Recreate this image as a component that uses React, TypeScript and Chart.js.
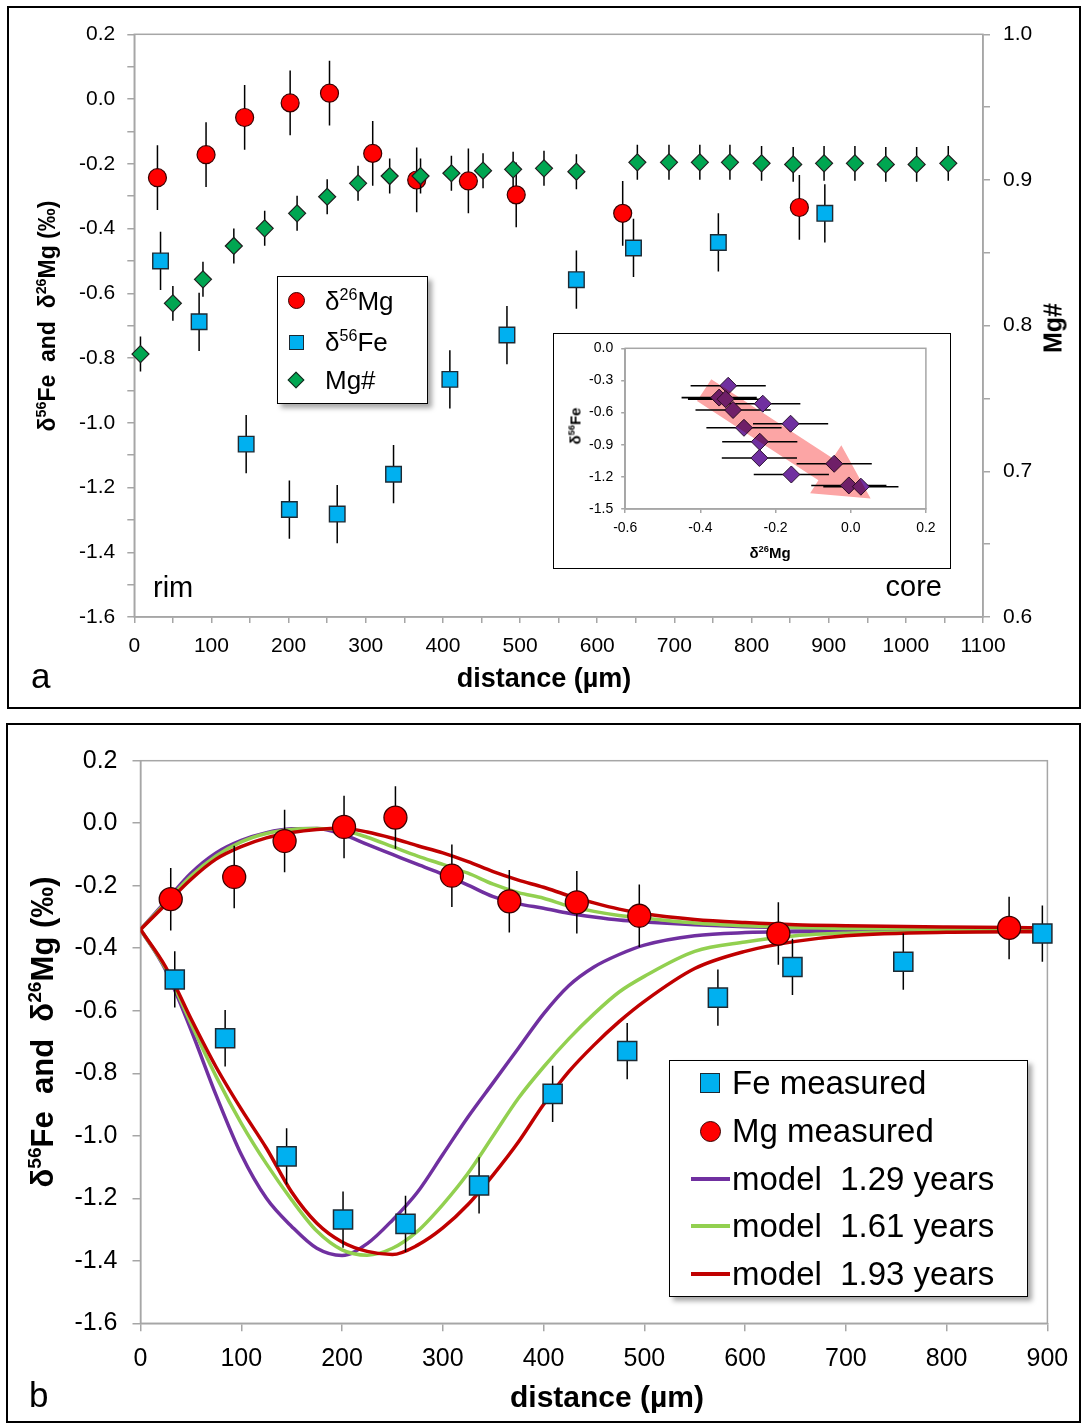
import React, { useEffect, useRef } from "react";
import { Chart, registerables } from "chart.js";

Chart.register(...registerables);

const FONT = '"Liberation Sans", Arial, Helvetica, sans-serif';
const GRAY = "#a6a6a6";
const RED = "#ff0000";
const BLUE = "#00b0f0";
const GREEN = "#00a651";
const PURPLE = "#7030a0";
const M_PURPLE = "#7030a0";
const M_GREEN = "#92d050";
const M_RED = "#c00000";

// ---------------- measured data (distance in µm) ----------------
const mgDist = [30, 93, 143, 202, 253, 309, 366, 433, 495, 633, 862];
const mgDelta = [-0.243, -0.172, -0.057, -0.012, 0.018, -0.168, -0.25, -0.253, -0.296, -0.353, -0.335];
const mgErr = 0.1;

const feDist = [34, 84, 145, 201, 263, 336, 409, 483, 573, 647, 757, 895];
const feDelta = [-0.5, -0.688, -1.066, -1.268, -1.282, -1.159, -0.866, -0.729, -0.558, -0.46, -0.443, -0.353];
const feErr = 0.09;

const mgNumDist = [8, 50, 89, 129, 169, 211, 250, 290, 331, 371, 411, 452, 491, 531, 573, 652, 693, 733, 772, 813, 854, 894, 934, 974, 1014, 1055];
const mgNum = [0.7805, 0.8153, 0.8318, 0.8547, 0.8668, 0.8771, 0.8885, 0.8977, 0.9027, 0.9027, 0.9046, 0.9064, 0.9073, 0.908, 0.9057, 0.9121, 0.9121, 0.9121, 0.9121, 0.9114, 0.9107, 0.9114, 0.9114, 0.9107, 0.9107, 0.9114];
const mgNumErr = 0.012;

// ---------------- inset (δ26Mg vs δ56Fe) ----------------
const insetMg = [-0.326, -0.35, -0.333, -0.234, -0.313, -0.16, -0.284, -0.242, -0.243, -0.158, -0.044, -0.005, 0.027];
const insetFe = [-0.35, -0.46, -0.475, -0.517, -0.576, -0.704, -0.742, -0.872, -1.024, -1.178, -1.078, -1.28, -1.292];
const insetErr = 0.1;
const arrowMg = [-0.409, -0.371, -0.048, -0.025, 0.053, -0.108, -0.086];
const arrowFe = [-0.491, -0.288, -1.027, -0.904, -1.401, -1.354, -1.231];

// ---------------- diffusion models ----------------
const modelDist = [0, 25, 50, 75, 100, 125, 150, 175, 200, 225, 250, 275, 300, 325, 350, 375, 400, 425, 450, 475, 500, 550, 600, 650, 700, 800, 900];
const mg129 = [-0.34, -0.25, -0.16, -0.095, -0.055, -0.03, -0.018, -0.017, -0.035, -0.068, -0.1, -0.132, -0.163, -0.198, -0.235, -0.258, -0.272, -0.288, -0.3, -0.31, -0.316, -0.325, -0.331, -0.335, -0.337, -0.338, -0.338];
const mg161 = [-0.34, -0.255, -0.17, -0.105, -0.06, -0.033, -0.02, -0.017, -0.022, -0.045, -0.075, -0.105, -0.132, -0.16, -0.195, -0.222, -0.24, -0.265, -0.282, -0.295, -0.304, -0.319, -0.328, -0.334, -0.337, -0.338, -0.338];
const mg193 = [-0.34, -0.26, -0.18, -0.115, -0.075, -0.047, -0.03, -0.02, -0.016, -0.028, -0.048, -0.072, -0.095, -0.123, -0.155, -0.182, -0.205, -0.232, -0.255, -0.275, -0.29, -0.308, -0.318, -0.325, -0.328, -0.332, -0.335];
const fe129 = [-0.34, -0.47, -0.66, -0.87, -1.06, -1.2, -1.29, -1.36, -1.383, -1.345, -1.27, -1.18, -1.06, -0.94, -0.83, -0.72, -0.61, -0.52, -0.46, -0.42, -0.39, -0.36, -0.35, -0.347, -0.346, -0.345, -0.345];
const fe161 = [-0.34, -0.465, -0.64, -0.81, -0.96, -1.09, -1.205, -1.305, -1.365, -1.382, -1.36, -1.305, -1.22, -1.12, -1.0, -0.88, -0.78, -0.69, -0.61, -0.54, -0.49, -0.41, -0.38, -0.36, -0.352, -0.347, -0.345];
const fe193 = [-0.34, -0.46, -0.625, -0.78, -0.915, -1.04, -1.18, -1.28, -1.34, -1.37, -1.38, -1.35, -1.295, -1.22, -1.125, -1.02, -0.9, -0.795, -0.71, -0.635, -0.57, -0.465, -0.41, -0.378, -0.36, -0.349, -0.347];

const zip = (xs: number[], ys: number[]) => xs.map((x, i) => ({ x, y: ys[i] }));

// ---------------- plugins ----------------
const errorBarPlugin = {
  id: "errorBars",
  beforeDatasetDraw(chart: any, args: any) {
    const ds: any = chart.data.datasets[args.index];
    if (!ds.errY && !ds.errX) return;
    const meta = chart.getDatasetMeta(args.index);
    const xs = chart.scales[meta.xAxisID];
    const ys = chart.scales[meta.yAxisID];
    const ctx = chart.ctx;
    ctx.save();
    ctx.strokeStyle = "#000";
    ctx.lineWidth = ds.errWidth || 1.5;
    ctx.beginPath();
    ds.data.forEach((p: any) => {
      if (ds.errY) {
        const x = xs.getPixelForValue(p.x);
        ctx.moveTo(x, ys.getPixelForValue(p.y - ds.errY));
        ctx.lineTo(x, ys.getPixelForValue(p.y + ds.errY));
      }
      if (ds.errX) {
        const y = ys.getPixelForValue(p.y);
        ctx.moveTo(xs.getPixelForValue(p.x - ds.errX), y);
        ctx.lineTo(xs.getPixelForValue(p.x + ds.errX), y);
      }
    });
    ctx.stroke();
    ctx.restore();
  },
};

const framePlugin = {
  id: "frame",
  beforeDatasetsDraw(chart: any) {
    const { ctx, chartArea: a } = chart;
    ctx.save();
    ctx.strokeStyle = GRAY;
    ctx.lineWidth = 1.5;
    ctx.strokeRect(a.left, a.top, a.right - a.left, a.bottom - a.top);
    ctx.restore();
  },
};

const arrowPlugin = {
  id: "arrow",
  afterDatasetsDraw(chart: any) {
    const { ctx } = chart;
    const xs = chart.scales.x;
    const ys = chart.scales.y;
    ctx.save();
    ctx.globalCompositeOperation = "multiply";
    ctx.fillStyle = "rgb(252,165,165)";
    ctx.beginPath();
    arrowMg.forEach((m, i) => {
      const px = xs.getPixelForValue(m);
      const py = ys.getPixelForValue(arrowFe[i]);
      if (i === 0) ctx.moveTo(px, py);
      else ctx.lineTo(px, py);
    });
    ctx.closePath();
    ctx.fill();
    ctx.restore();
  },
};

// ---------------- axis helper ----------------
function makeAxis(s: any) {
  const horizontal = s.pos === "bottom";
  return {
    type: "linear",
    position: s.pos,
    min: s.min,
    max: s.max,
    ticks: {
      stepSize: s.step,
      autoSkip: false,
      maxRotation: 0,
      minRotation: 0,
      maxTicksLimit: 1000,
      padding: s.pad,
      color: "#000",
      font: { family: FONT, size: s.fontSize },
      callback: (v: number) => {
        const k = Math.round(v / s.step);
        const val = Math.abs(v) < 1e-9 ? 0 : v;
        return k % s.labelEvery === 0 ? Number(val).toFixed(s.decimals) : "";
      },
    },
    grid: {
      drawOnChartArea: false,
      drawTicks: true,
      tickLength: s.tickLen,
      tickColor: GRAY,
      tickWidth: 1.5,
      color: GRAY,
      lineWidth: 1.5,
    },
    border: { display: true, color: GRAY, width: 1.5 },
    afterFit: (sc: any) => {
      if (horizontal) sc.height = s.size;
      else sc.width = s.size;
      sc.paddingLeft = 0;
      sc.paddingRight = 0;
      sc.paddingTop = 0;
      sc.paddingBottom = 0;
    },
  };
}

const baseOptions = (padding: any, scales: any) => ({
  responsive: false,
  animation: false,
  events: [],
  layout: { padding },
  plugins: { legend: { display: false }, tooltip: { enabled: false } },
  scales,
});

// ---------------- chart configs ----------------
const configA = () => ({
  type: "scatter",
  data: {
    datasets: [
      {
        label: "Mg#",
        data: zip(mgNumDist, mgNum),
        xAxisID: "x",
        yAxisID: "y2",
        pointStyle: "rectRot",
        pointRadius: 8.5,
        pointBackgroundColor: GREEN,
        pointBorderColor: "#1e1e1e",
        pointBorderWidth: 1.2,
        errY: mgNumErr,
        order: 1,
        clip: false,
      },
      {
        label: "δ26Mg",
        data: zip(mgDist, mgDelta),
        xAxisID: "x",
        yAxisID: "y",
        pointStyle: "circle",
        pointRadius: 9,
        pointBackgroundColor: RED,
        pointBorderColor: "#3a0000",
        pointBorderWidth: 1.2,
        errY: mgErr,
        order: 2,
        clip: false,
      },
      {
        label: "δ56Fe",
        data: zip(feDist, feDelta),
        xAxisID: "x",
        yAxisID: "y",
        pointStyle: "rect",
        pointRadius: 11,
        pointBackgroundColor: BLUE,
        pointBorderColor: "#1e2a33",
        pointBorderWidth: 1.4,
        errY: feErr,
        order: 3,
        clip: false,
      },
    ],
  },
  options: baseOptions({ left: 0, top: 26.3, right: 0, bottom: 0 }, {
    x: makeAxis({ pos: "bottom", min: 0, max: 1100, step: 50, labelEvery: 2, decimals: 0, size: 90, fontSize: 21, tickLen: 6, pad: 11 }),
    y: makeAxis({ pos: "left", min: -1.6, max: 0.2, step: 0.1, labelEvery: 2, decimals: 1, size: 125.3, fontSize: 21, tickLen: 7, pad: 12 }),
    y2: makeAxis({ pos: "right", min: 0.6, max: 1.0, step: 0.05, labelEvery: 2, decimals: 1, size: 96, fontSize: 21, tickLen: 7, pad: 13 }),
  }),
  plugins: [framePlugin, errorBarPlugin],
});

const modelLine = (label: string, ys: number[], color: string, order: number) => ({
  label,
  data: zip(modelDist, ys),
  showLine: true,
  pointRadius: 0,
  borderColor: color,
  borderWidth: 3.5,
  cubicInterpolationMode: "monotone",
  fill: false,
  order,
});

const configB = () => ({
  type: "scatter",
  data: {
    datasets: [
      {
        label: "Mg measured",
        data: zip(mgDist, mgDelta),
        pointStyle: "circle",
        pointRadius: 11.5,
        pointBackgroundColor: RED,
        pointBorderColor: "#3a0000",
        pointBorderWidth: 1.3,
        errY: mgErr,
        order: 1,
        clip: false,
      },
      {
        label: "Fe measured",
        data: zip(feDist, feDelta),
        pointStyle: "rect",
        pointRadius: 13.5,
        pointBackgroundColor: BLUE,
        pointBorderColor: "#1e2a33",
        pointBorderWidth: 1.5,
        errY: feErr,
        order: 2,
        clip: false,
      },
      modelLine("model 1.93 years Mg", mg193, M_RED, 5),
      modelLine("model 1.93 years Fe", fe193, M_RED, 5),
      modelLine("model 1.61 years Mg", mg161, M_GREEN, 6),
      modelLine("model 1.61 years Fe", fe161, M_GREEN, 6),
      modelLine("model 1.29 years Mg", mg129, M_PURPLE, 7),
      modelLine("model 1.29 years Fe", fe129, M_PURPLE, 7),
    ],
  },
  options: baseOptions({ left: 0, top: 35.7, right: 31.6, bottom: 0 }, {
    x: makeAxis({ pos: "bottom", min: 0, max: 900, step: 100, labelEvery: 1, decimals: 0, size: 97.7, fontSize: 25, tickLen: 8, pad: 13 }),
    y: makeAxis({ pos: "left", min: -1.6, max: 0.2, step: 0.2, labelEvery: 1, decimals: 1, size: 132.5, fontSize: 25, tickLen: 8, pad: 15 }),
  }),
  plugins: [framePlugin, errorBarPlugin],
});

const configInset = () => ({
  type: "scatter",
  data: {
    datasets: [
      {
        label: "δ26Mg vs δ56Fe",
        data: zip(insetMg, insetFe),
        pointStyle: "rectRot",
        pointRadius: 8.5,
        pointBackgroundColor: PURPLE,
        pointBorderColor: "#2a1030",
        pointBorderWidth: 1,
        errX: insetErr,
        errWidth: 1.6,
        clip: false,
      },
    ],
  },
  options: baseOptions({ left: 0, top: 14.3, right: 24.1, bottom: 0 }, {
    x: makeAxis({ pos: "bottom", min: -0.6, max: 0.2, step: 0.2, labelEvery: 1, decimals: 1, size: 58, fontSize: 14, tickLen: 4, pad: 7 }),
    y: makeAxis({ pos: "left", min: -1.5, max: 0, step: 0.3, labelEvery: 1, decimals: 1, size: 70.2, fontSize: 14, tickLen: 4, pad: 8 }),
  }),
  plugins: [framePlugin, errorBarPlugin, arrowPlugin],
});

// ---------------- components ----------------
function ChartCanvas({ left, top, width, height, config }: any) {
  const ref = useRef<HTMLCanvasElement>(null);
  useEffect(() => {
    const chart = new Chart(ref.current as HTMLCanvasElement, config() as any);
    return () => chart.destroy();
  }, []);
  return (
    <canvas
      ref={ref}
      width={width}
      height={height}
      style={{ position: "absolute", left, top, width, height, display: "block" }}
    />
  );
}

const Sup = ({ children }: any) => (
  <sup style={{ fontSize: "0.62em", verticalAlign: "0.62em", lineHeight: 0 }}>{children}</sup>
);

function Txt({ x, base, size, bold, align = "left", spacing = 0, children }: any) {
  const style: any = {
    position: "absolute",
    top: base - 0.8465 * size,
    fontSize: size,
    lineHeight: `${size}px`,
    fontWeight: bold ? 700 : 400,
    whiteSpace: "pre",
    fontFamily: FONT,
    letterSpacing: spacing,
    color: "#000",
  };
  if (align === "left") style.left = x;
  else if (align === "center") {
    style.left = x;
    style.transform = "translateX(-50%)";
  } else style.right = 1082 - x;
  return <div style={style}>{children}</div>;
}

function VTxt({ cx, cy, size, bold = true, children }: any) {
  return (
    <div
      style={{
        position: "absolute",
        left: cx,
        top: cy,
        transform: "translate(-50%, -50%) rotate(-90deg)",
        fontSize: size,
        lineHeight: `${size}px`,
        fontWeight: bold ? 700 : 400,
        whiteSpace: "pre",
        fontFamily: FONT,
        color: "#000",
      }}
    >
      {children}
    </div>
  );
}

const boxStyle = (left: number, top: number, width: number, height: number, bw: number): any => ({
  position: "absolute",
  left,
  top,
  width,
  height,
  border: `${bw}px solid #000`,
  boxSizing: "border-box",
});

function Marker({ cx, cy, kind, size, color }: any) {
  const common: any = {
    position: "absolute",
    boxSizing: "border-box",
    background: color,
  };
  if (kind === "circle")
    return <div style={{ ...common, left: cx - size / 2, top: cy - size / 2, width: size, height: size, borderRadius: "50%", border: "1.2px solid #3a0000" }} />;
  if (kind === "square")
    return <div style={{ ...common, left: cx - size / 2, top: cy - size / 2, width: size, height: size, border: "1.4px solid #1e2a33" }} />;
  if (kind === "diamond") {
    const s = size / Math.SQRT2;
    return <div style={{ ...common, left: cx - s / 2, top: cy - s / 2, width: s, height: s, transform: "rotate(45deg)", border: "1.2px solid #1e1e1e" }} />;
  }
  // line
  return <div style={{ ...common, left: cx - size / 2, top: cy - 2, width: size, height: 4 }} />;
}

export default function App() {
  return (
    <div
      style={{
        position: "absolute",
        left: 0,
        top: 0,
        width: 1082,
        height: 1423,
        overflow: "hidden",
        background: "#fff",
        fontFamily: FONT,
      }}
    >
      {/* ---------- Panel a ---------- */}
      <div style={boxStyle(7, 6, 1074, 703, 2)} />
      <ChartCanvas left={9} top={8} width={1070} height={699} config={configA} />
      <VTxt cx={46.8} cy={316} size={23}>
        δ<Sup>56</Sup>Fe{"  "}and{"  "}δ<Sup>26</Sup>Mg (‰)
      </VTxt>
      <VTxt cx={1053} cy={328} size={25}>Mg#</VTxt>
      <Txt x={544} base={688} size={27} bold align="center">distance (µm)</Txt>
      <Txt x={31} base={688} size={35}>a</Txt>
      <Txt x={153} base={598} size={29}>rim</Txt>
      <Txt x={942} base={597} size={29} align="right">core</Txt>

      {/* legend a */}
      <div style={{ ...boxStyle(277, 276, 151, 128, 1.5), background: "#fff", boxShadow: "4px 4px 5px rgba(0,0,0,0.35)" }} />
      <Marker cx={296} cy={300} kind="circle" size={17} color={RED} />
      <Marker cx={296} cy={342} kind="square" size={15} color={BLUE} />
      <Marker cx={296} cy={380} kind="diamond" size={17} color={GREEN} />
      <Txt x={325} base={310.5} size={26}>δ<Sup>26</Sup>Mg</Txt>
      <Txt x={325} base={351.5} size={26}>δ<Sup>56</Sup>Fe</Txt>
      <Txt x={325} base={389} size={26}>Mg#</Txt>

      {/* inset */}
      <div style={{ ...boxStyle(553, 332.5, 398, 236, 1.5), background: "#fff" }} />
      <ChartCanvas left={554.5} top={334} width={395} height={233} config={configInset} />
      <VTxt cx={574.8} cy={426} size={15}>δ<Sup>56</Sup>Fe</VTxt>
      <Txt x={770} base={557.5} size={15} bold align="center">δ<Sup>26</Sup>Mg</Txt>

      {/* ---------- Panel b ---------- */}
      <div style={boxStyle(6, 722.5, 1075, 700, 2)} />
      <ChartCanvas left={8} top={725} width={1071} height={696} config={configB} />
      <VTxt cx={42.3} cy={1032} size={31}>
        δ<Sup>56</Sup>Fe{"  "}and{"  "}δ<Sup>26</Sup>Mg (‰)
      </VTxt>
      <Txt x={607} base={1407} size={30} bold align="center">distance (µm)</Txt>
      <Txt x={29} base={1406.5} size={35}>b</Txt>

      {/* legend b */}
      <div style={{ ...boxStyle(669, 1060, 359, 237, 1.5), background: "#fff", boxShadow: "4px 4px 5px rgba(0,0,0,0.35)" }} />
      <Marker cx={710} cy={1083} kind="square" size={20} color={BLUE} />
      <Marker cx={710} cy={1131} kind="circle" size={21} color={RED} />
      <Marker cx={710} cy={1179} kind="line" size={39} color={M_PURPLE} />
      <Marker cx={710} cy={1226} kind="line" size={39} color={M_GREEN} />
      <Marker cx={710} cy={1274} kind="line" size={39} color={M_RED} />
      <Txt x={732} base={1094} size={33}>Fe measured</Txt>
      <Txt x={732} base={1142} size={33}>Mg measured</Txt>
      <Txt x={732} base={1189.5} size={33}>{"model  1.29 years"}</Txt>
      <Txt x={732} base={1237} size={33}>{"model  1.61 years"}</Txt>
      <Txt x={732} base={1284.5} size={33}>{"model  1.93 years"}</Txt>
    </div>
  );
}
